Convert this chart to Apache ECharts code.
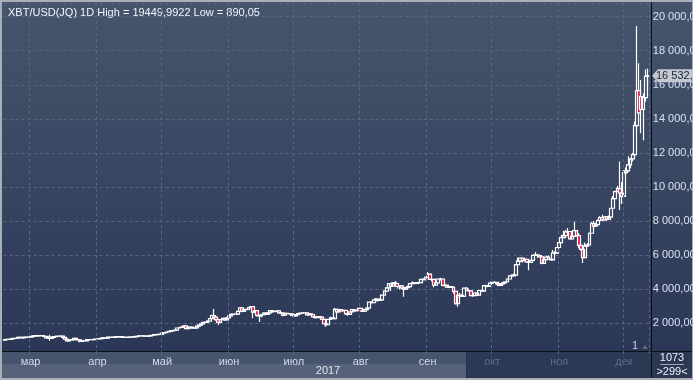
<!DOCTYPE html>
<html><head><meta charset="utf-8">
<script src="https://cdn.jsdelivr.net/npm/echarts@6/dist/echarts.min.js"></script>
<style>html,body{margin:0;padding:0;background:#a9afb9}#c{width:693px;height:380px}</style>
</head><body><div id="c"></div>
<script>
const startDate = '2017-02-17';
const monthNames = ['янв','фев','мар','апр','май','июн','июл','авг','сен','окт','ноя','дек'];
const dimMonths = ['окт','ноя','дек'];
const yearLabel = '2017';
const totalBars = '1073';
const visibleBars = '>299<';
const instrument = 'XBT/USD(JQ) 1D';

const opens = [1010,1050,1060,1050,1080,1120,1125,1170,1175,1150,1170,1190,
1190,1225,1260,1285,1265,1270,1275,1235,1150,1190,1110,1180,1225,1245,1245,1255,1170,1070,970,1020,1045,1115,1040,1035,935,965,970,1045,1045,1040,1040,
1080,1085,1100,1145,1135,1130,1190,1190,1180,1205,1210,1225,1210,1175,1180,1185,1185,1205,1210,1230,1260,1265,1255,1250,1245,1265,1300,1345,1330,1350,
1350,1420,1450,1490,1535,1555,1580,1595,1725,1755,1790,1845,1690,1760,1775,1720,1735,1840,1890,1970,2050,2055,2125,2270,2460,2360,2220,2060,2215,2295,2205,
2325,2440,2530,2540,2545,2705,2905,2700,2800,2820,2930,2985,2655,2740,2475,2435,2505,2595,2530,2610,2750,2680,2705,2725,2615,2595,2475,2580,2575,2550,
2470,2435,2510,2565,2600,2620,2610,2500,2560,2505,2375,2330,2395,2365,2235,1975,1915,2235,2320,2275,2815,2670,2810,2730,2755,2575,2530,2670,2810,2725,2755,
2875,2720,2710,2805,2895,3250,3215,3380,3420,3340,3380,3650,3885,4075,4325,4180,4375,4330,4160,4195,4085,4000,4100,4150,4335,4370,4350,4380,4385,4580,4565,
4705,4890,4580,4585,4235,4375,4600,4600,4230,4225,4120,4160,4130,3880,3155,3640,3625,3580,4065,3925,3905,3630,3630,3780,3660,3925,3890,4210,4195,4165,
4360,4405,4405,4310,4225,4320,4370,4440,4600,4785,4785,4825,5445,5645,5830,5680,5755,5595,5575,5700,5985,6010,5980,5905,5515,5735,5890,5770,5725,6140,6125,
6450,6735,7025,7150,7365,7390,6960,7100,7445,7145,6570,6340,5860,6530,6610,7285,7855,7700,7790,8035,8200,8070,8245,8100,8235,8755,9320,9735,9905,9640,
9450,10850,10950,11300,11650,11900,13600,15650,15300,14550,15250,16500];

const closes = [1050,1060,1050,1080,1120,1125,1170,1175,1150,1170,1190,1190,
1225,1260,1285,1265,1270,1275,1235,1150,1190,1110,1180,1225,1245,1245,1255,1170,1070,970,1020,1045,1115,1040,1035,935,965,970,1045,1045,1040,1040,1080,
1085,1100,1145,1135,1130,1190,1190,1180,1205,1210,1225,1210,1175,1180,1185,1185,1205,1210,1230,1260,1265,1255,1250,1245,1265,1300,1345,1330,1350,1350,
1420,1450,1490,1535,1555,1580,1595,1725,1755,1790,1845,1690,1760,1775,1720,1735,1840,1890,1970,2050,2055,2125,2270,2460,2360,2220,2060,2215,2295,2205,2325,
2440,2530,2540,2545,2705,2905,2700,2800,2820,2930,2985,2655,2740,2475,2435,2505,2595,2530,2610,2750,2680,2705,2725,2615,2595,2475,2580,2575,2550,2470,
2435,2510,2565,2600,2620,2610,2500,2560,2505,2375,2330,2395,2365,2235,1975,1915,2235,2320,2275,2815,2670,2810,2730,2755,2575,2530,2670,2810,2725,2755,2875,
2720,2710,2805,2895,3250,3215,3380,3420,3340,3380,3650,3885,4075,4325,4180,4375,4330,4160,4195,4085,4000,4100,4150,4335,4370,4350,4380,4385,4580,4565,4705,
4890,4580,4585,4235,4375,4600,4600,4230,4225,4120,4160,4130,3880,3155,3640,3625,3580,4065,3925,3905,3630,3630,3780,3660,3925,3890,4210,4195,4165,4360,
4405,4405,4310,4225,4320,4370,4440,4600,4785,4785,4825,5445,5645,5830,5680,5755,5595,5575,5700,5985,6010,5980,5905,5515,5735,5890,5770,5725,6140,6125,6450,
6735,7025,7150,7365,7390,6960,7100,7445,7145,6570,6340,5860,6530,6610,7285,7855,7700,7790,8035,8200,8070,8245,8100,8235,8755,9320,9735,9905,9640,9450,
10850,10950,11300,11650,11900,13600,15650,14350,14550,15250,16500,16532];

const highs = [1065,1075,1070,1090,1125,1140,1180,1190,1185,1180,1200,1200,
1230,1265,1290,1290,1275,1290,1285,1240,1210,1330,1190,1235,1250,1260,1260,1260,1175,1075,1065,1060,1125,1120,1055,1040,1000,980,1050,1065,1060,1055,1090,
1095,1110,1160,1160,1140,1200,1210,1195,1215,1220,1230,1230,1215,1190,1190,1195,1210,1215,1235,1265,1275,1270,1260,1255,1270,1305,1350,1350,1355,1365,
1425,1460,1495,1545,1610,1590,1600,1730,1770,1800,1850,1860,1765,1790,1780,1760,1845,1900,1975,2060,2100,2180,2280,2500,2840,2480,2270,2240,2320,2300,2340,
2450,2540,2580,2560,2710,2920,2910,2810,2850,2945,3010,2990,2780,2760,2520,2530,2650,2610,2630,2770,2780,2740,2760,2730,2630,2610,2590,2600,2590,2555,
2490,2520,2580,2620,2630,2630,2615,2580,2560,2520,2410,2410,2420,2370,2240,2010,2240,2380,2330,2900,2840,2820,2830,2770,2760,2620,2690,2820,2830,2760,2890,
2920,2760,2810,2900,3270,3290,3400,3480,3430,3440,3680,3920,4130,4340,4330,4400,4480,4360,4200,4200,4100,4120,4220,4370,4460,4380,4390,4400,4620,4650,4740,
5010,4920,4650,4590,4490,4650,4680,4630,4340,4300,4260,4180,4150,3900,3700,3790,3720,4090,4120,4040,3920,3750,3800,3790,3940,3970,4220,4270,4210,4370,
4410,4470,4420,4350,4360,4390,4460,4620,4800,4880,4920,5450,5860,5850,5840,5790,5780,5620,5720,6060,6180,6070,6030,6010,5750,5960,5990,5790,6300,6230,6470,
6760,7200,7430,7470,7600,7410,7200,7960,7480,7300,6800,6500,6740,6720,7330,7960,8000,7900,8100,8290,8370,8290,8290,8330,8790,9470,9780,10060,11500,10300,
11000,11150,11800,11700,12000,13850,19449.9922,17270,16280,15500,16900,16950];

const lows = [1000,1040,1035,1045,1075,1110,1120,1160,1140,1145,1165,1175,
1185,1220,1250,1240,1240,1255,1230,1140,1145,980,1100,1175,1215,1230,1225,1130,1040,945,960,1000,1035,1020,1020,890.05,920,935,965,1030,1030,1025,1035,
1070,1075,1095,1120,1105,1125,1180,1170,1175,1195,1205,1200,1165,1170,1170,1175,1180,1195,1205,1225,1240,1240,1235,1235,1240,1260,1295,1315,1325,1340,
1345,1410,1440,1485,1520,1540,1560,1590,1690,1740,1780,1660,1680,1735,1700,1710,1730,1825,1880,1960,2000,2050,2100,2260,2330,2150,1900,2040,2200,2150,2200,
2320,2430,2500,2510,2540,2700,2650,2690,2760,2810,2890,2300,2600,2400,2080,2360,2480,2490,2520,2600,2630,2660,2700,2580,2550,2420,2460,2530,2520,2450,
2420,2430,2500,2550,2590,2580,2480,2490,2480,2340,2280,2320,2340,2200,1950,1800,1900,2210,2250,2270,2620,2650,2700,2710,2490,2450,2510,2660,2700,2700,2740,
2690,2660,2700,2790,2880,3160,3200,3370,3270,3320,3370,3640,3850,4000,3900,4150,4250,4040,3980,4020,3560,3950,4080,4140,4300,4290,4320,4300,4370,4540,4550,
4690,4540,4450,4120,4220,4370,4520,4180,4160,4100,4080,4070,3750,3100,2975,3480,3550,3570,3890,3860,3590,3560,3610,3640,3650,3860,3880,4130,4110,4160,
4320,4370,4250,4170,4190,4310,4350,4430,4570,4720,4770,4820,5430,5580,5570,5640,5550,5120,5550,5690,5950,5850,5870,5470,5500,5720,5740,5690,5720,6030,6110,
6440,6720,7000,7050,7300,6930,6950,7080,7100,6400,6280,5540,5840,6480,6600,7280,7500,7660,7770,7940,7990,8050,8000,8080,8230,8740,9310,9700,8650,9000,
9400,10700,10900,11100,11500,11800,13400,14250,13150,12750,15000,16000];

// category dates (one per daily candle)
const dates = [];
const d0 = new Date(startDate + 'T00:00:00Z');
for (let i = 0; i < closes.length; i++) {
  dates.push(new Date(d0.getTime() + i * 86400000).toISOString().slice(0, 10));
}
const isMonthStart = (i, v) => v.slice(8) === '01';

function fmtRu(v) {
  const p = v.toFixed(2).split('.');
  return p[0].replace(/\B(?=(\d{3})+(?!\d))/g, ' ') + ',' + p[1];
}
const maxHigh = Math.max(...highs);
const minLow = Math.min(...lows);
const FONT = '"Liberation Sans", Arial, sans-serif';

const chart = echarts.init(document.getElementById('c'), null, {renderer: 'canvas'});
const option = {
  animation: false,
  backgroundColor: '#a9afb9',
  textStyle: {fontFamily: FONT},
  title: {
    text: instrument + ' High = ' + String(maxHigh).replace('.', ',') + ' Low = ' + String(minLow).replace('.', ','),
    left: 3, top: 2,
    textStyle: {color: '#f2f5fa', fontSize: 11, fontWeight: 'normal', fontFamily: FONT}
  },
  grid: {left: 3.6, right: 44.2, top: 3, bottom: 22.6, show: false, containLabel: false, outerBoundsMode: 'none'},
  xAxis: {
    type: 'category', data: dates, boundaryGap: true, z: 200,
    axisLine: {show: false}, axisTick: {show: false},
    axisLabel: {
      interval: isMonthStart, margin: -1, fontSize: 11, fontFamily: FONT,
      formatter: v => {
        const m = monthNames[+v.slice(5, 7) - 1];
        return (dimMonths.includes(m) ? '{d|' : '{n|') + m + '}';
      },
      rich: {
        n: {color: '#d3ddee', fontSize: 11, fontFamily: FONT},
        d: {color: '#5d6b85', fontSize: 11, fontFamily: FONT}
      }
    },
    splitLine: {show: true, interval: isMonthStart, lineStyle: {color: '#586680', type: [3, 3], width: 1}}
  },
  yAxis: {
    type: 'value', position: 'right', min: 0, max: 20800, interval: 2000,
    axisLine: {show: false}, axisTick: {show: false},
    splitLine: {lineStyle: {color: '#586680', type: [3, 3], width: 1}},
    axisLabel: {
      color: '#d8e2f0', fontSize: 11, margin: 4, fontFamily: FONT, align: 'left',
      formatter: v => (v > 0 && v % 2000 === 0) ? fmtRu(v) : ''
    }
  },
  series: [{
    type: 'candlestick',
    data: dates.map((_, i) => [opens[i], closes[i], lows[i], highs[i]]),
    barWidth: 3.4, z: 10,
    itemStyle: {color: 'rgba(0,0,0,0)', color0: '#e3143a', borderColor: '#ffffff', borderColor0: '#ffffff', borderWidth: 1.2}
  }],
  graphic: []
};
chart.setOption(option);

const lastIdx = closes.length - 1;
const lastY = chart.convertToPixel({seriesIndex: 0}, [lastIdx, closes[lastIdx]])[1];

const graphics = [
  {type: 'rect', z: -10, shape: {x: 2, y: 2, width: 690, height: 349},
   style: {fill: new echarts.graphic.LinearGradient(0, 0, 0, 1, [{offset: 0, color: '#46556d'}, {offset: 1, color: '#2b3756'}])}},
  // bottom bands
  {type: 'rect', z: 100, shape: {x: 2, y: 352, width: 465, height: 12}, style: {fill: '#46546d'}},
  {type: 'rect', z: 100, shape: {x: 2, y: 364, width: 465, height: 14}, style: {fill: '#55627a'}},
  {type: 'rect', z: 100, shape: {x: 467, y: 352, width: 184, height: 26}, style: {fill: '#2c3955'}},
  {type: 'line', z: 101, shape: {x1: 466.5, y1: 352, x2: 466.5, y2: 378}, style: {stroke: '#27324a', lineWidth: 1}},
  {type: 'rect', z: 100, shape: {x: 652, y: 352, width: 40, height: 26}, style: {fill: '#2b3753'}},
  {type: 'line', z: 101, shape: {x1: 2, y1: 351.5, x2: 692, y2: 351.5}, style: {stroke: '#0b0f18', lineWidth: 1}},
  {type: 'line', z: 101, shape: {x1: 651.5, y1: 2, x2: 651.5, y2: 378}, style: {stroke: '#0b0f18', lineWidth: 1}},
  {type: 'text', z: 102, style: {text: yearLabel, x: 328, y: 371, align: 'center', verticalAlign: 'middle', fill: '#e3e8f0', font: '11px ' + FONT}},
  {type: 'text', z: 102, style: {text: totalBars, x: 672, y: 358, align: 'center', verticalAlign: 'middle', fill: '#eef2f8', font: '11px ' + FONT}},
  {type: 'line', z: 102, shape: {x1: 660, y1: 364.5, x2: 684, y2: 364.5}, style: {stroke: '#9aa5b8', lineWidth: 1}},
  {type: 'text', z: 102, style: {text: visibleBars, x: 672, y: 372, align: 'center', verticalAlign: 'middle', fill: '#eef2f8', font: '11px ' + FONT}},
  // "1" marker at bottom-right of plot
  {type: 'text', z: 102, style: {text: '1', x: 635, y: 346, align: 'center', verticalAlign: 'middle', fill: '#c9d2e0', font: '11px ' + FONT}},
  {type: 'polygon', z: 102, shape: {points: [[642, 349], [648, 349], [645, 345]]}, style: {fill: '#5e6a80'}},
  // last price tag
  {type: 'polygon', z: 103, shape: {points: [[652, lastY], [658, lastY - 6.5], [693, lastY - 6.5], [693, lastY + 6.5], [658, lastY + 6.5]]},
   style: {fill: '#c4c9d1'}},
  {type: 'text', z: 104, style: {text: fmtRu(closes[lastIdx]), x: 656, y: lastY + 0.5, verticalAlign: 'middle', fill: '#1c2434', font: '11px ' + FONT}}
];
chart.setOption({graphic: graphics});
</script>
</body></html>
